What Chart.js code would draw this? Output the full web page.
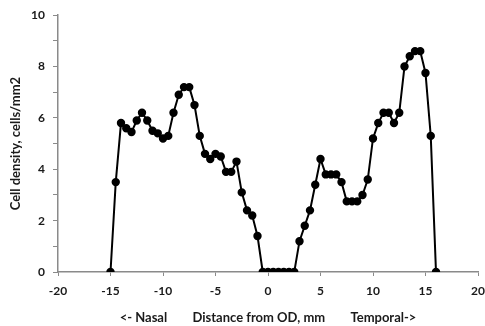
<!DOCTYPE html>
<html>
<head>
<meta charset="utf-8">
<script src="https://cdn.jsdelivr.net/npm/chart.js@4"></script>
<style>
  html, body { margin: 0; padding: 0; background: #fff; }
  #wrap { width: 485px; height: 326px; }
</style>
</head>
<body>
<div id="wrap"><canvas id="c" width="485" height="326"></canvas></div>
<script>
/* 시신경유두(OD) 기준 거리별 세포 밀도 */

// distance from OD, mm
const distMm = [
  -15, -14.5, -14, -13.5, -13, -12.5, -12, -11.5, -11, -10.5,
  -10, -9.5, -9, -8.5, -8, -7.5, -7, -6.5, -6, -5.5,
  -5, -4.5, -4, -3.5, -3, -2.5, -2, -1.5, -1, -0.5,
  0, 0.5, 1, 1.5, 2, 2.5, 3, 3.5, 4, 4.5,
  5, 5.5, 6, 6.5, 7, 7.5, 8, 8.5, 9, 9.5,
  10, 10.5, 11, 11.5, 12, 12.5, 13, 13.5, 14, 14.5,
  15, 15.5, 16
];

// cells/mm2
const density = [
  0, 3.5, 5.8, 5.6, 5.45, 5.9, 6.2, 5.9, 5.5, 5.4,
  5.2, 5.3, 6.2, 6.9, 7.2, 7.2, 6.5, 5.3, 4.6, 4.4,
  4.6, 4.5, 3.9, 3.9, 4.3, 3.1, 2.4, 2.2, 1.4, 0,
  0, 0, 0, 0, 0, 0, 1.2, 1.8, 2.4, 3.4,
  4.4, 3.8, 3.8, 3.8, 3.5, 2.75, 2.75, 2.75, 3.0, 3.6,
  5.2, 5.8, 6.2, 6.2, 5.8, 6.2, 8.0, 8.4, 8.6, 8.6,
  7.75, 5.3, 0
];

const xTicks = [-20, -15, -10, -5, 0, 5, 10, 15, 20];
const yTicks = [0, 2, 4, 6, 8, 10];

const xTitle = '<- Nasal        Distance from OD, mm        Temporal->';
const yTitle = 'Cell density, cells/mm2';

const FONT = 'Lato, "Open Sans", sans-serif';
const AXIS = '#8a8a8a';
const TXT  = '#1a1a1a';

const points = distMm.map((x, i) => ({ x, y: density[i] }));

new Chart(document.getElementById('c'), {
  type: 'scatter',
  data: {
    datasets: [{
      data: points,
      showLine: true,
      borderColor: '#000',
      borderWidth: 2,
      backgroundColor: '#000',
      pointRadius: 3.2,
      pointHoverRadius: 3.2,
      tension: 0,
    }],
  },
  options: {
    responsive: false,
    animation: false,
    layout: { padding: { top: 14, right: 0, bottom: 0, left: 0 } },
    plugins: { legend: { display: false }, tooltip: { enabled: false } },
    scales: {
      x: {
        type: 'linear',
        min: -20, max: 20,
        afterBuildTicks: s => { s.ticks = xTicks.map(v => ({ value: v })); },
        afterFit: s => { s.height = 54; s.paddingLeft = 0; s.paddingRight = 7; },
        border: { color: AXIS, width: 1.5 },
        grid: { display: true, drawOnChartArea: false, drawTicks: true, tickLength: 4, color: AXIS },
        ticks: {
          color: TXT, padding: 8,
          font: { family: FONT, size: 12, weight: 'bold' },
          callback: v => String(v),
        },
        title: {
          display: true, text: xTitle, color: TXT,
          font: { family: FONT, size: 13, weight: 'bold' },
          padding: { top: 6, bottom: 0 },
        },
      },
      y: {
        type: 'linear',
        min: 0, max: 10,
        ticks: {
          stepSize: 1, color: TXT, padding: 8,
          font: { family: FONT, size: 12, weight: 'bold' },
          callback: v => yTicks.includes(v) ? String(v) : '',
        },
        afterFit: s => { s.width = 58; },
        border: { color: AXIS, width: 1.5 },
        grid: { display: true, drawOnChartArea: false, drawTicks: true, tickLength: 5, color: AXIS },
        title: {
          display: true, text: yTitle, color: TXT,
          font: { family: FONT, size: 13, weight: 'bold' },
          padding: { top: 8, bottom: 4 },
        },
      },
    },
  },
});
</script>
</body>
</html>
